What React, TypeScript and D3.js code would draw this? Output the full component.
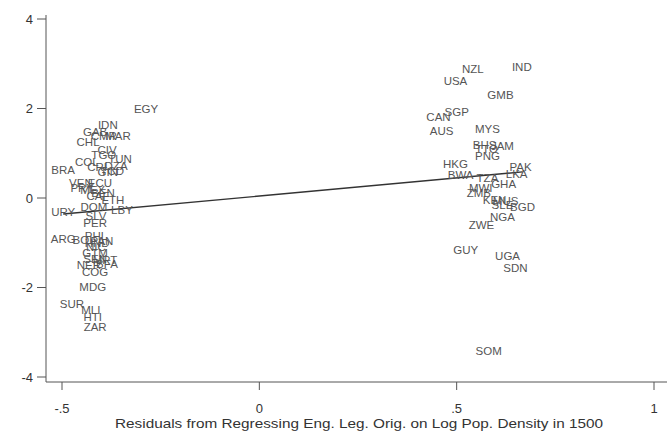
import React from 'react';
import * as d3 from 'd3';

// country codes with residual positions (x: eng. legal origin resid, y: outcome resid)
const leftCodes = ['EGY','IDN','GAB','MAR','CMR','CHL','CIV','TGO','TUN','COL','CRI','DZA','GIN','TCD','BRA','VEN','ECU','PRY','MEX','BEN','CAF','ETH','DOM','LBY','URY','SLV','PER','ARG','BOL','PHL','HND','PAN','NIC','GTM','SEN','BFA','NER','MRT','COG','MDG','SUR','MLI','HTI','ZAR'];
const leftX = [-0.287,-0.384,-0.416,-0.358,-0.394,-0.434,-0.386,-0.394,-0.353,-0.437,-0.411,-0.363,-0.384,-0.373,-0.497,-0.452,-0.404,-0.449,-0.422,-0.396,-0.409,-0.371,-0.419,-0.348,-0.497,-0.414,-0.416,-0.497,-0.444,-0.414,-0.411,-0.399,-0.414,-0.416,-0.416,-0.386,-0.432,-0.391,-0.416,-0.422,-0.475,-0.427,-0.422,-0.416];
const leftY = [1.99,1.63,1.47,1.39,1.39,1.25,1.07,0.96,0.87,0.80,0.69,0.72,0.58,0.60,0.63,0.34,0.34,0.22,0.18,0.11,0.04,-0.04,-0.20,-0.27,-0.31,-0.40,-0.56,-0.92,-0.94,-0.85,-1.01,-0.96,-1.09,-1.23,-1.36,-1.47,-1.50,-1.39,-1.65,-1.99,-2.37,-2.50,-2.66,-2.88];

const rightCodes = ['IND','NZL','USA','GMB','SGP','CAN','AUS','MYS','BHS','JAM','TTO','PNG','HKG','BWA','PAK','LKA','TZA','GHA','MWI','ZMB','KEN','MUS','SLE','BGD','NGA','ZWE','GUY','UGA','SDN','SOM'];
const rightX = [0.665,0.541,0.497,0.611,0.500,0.454,0.462,0.578,0.571,0.616,0.576,0.578,0.497,0.510,0.662,0.652,0.578,0.619,0.561,0.556,0.596,0.624,0.616,0.667,0.616,0.563,0.523,0.629,0.649,0.581];
const rightY = [2.93,2.88,2.61,2.30,1.92,1.81,1.50,1.54,1.18,1.16,1.09,0.94,0.76,0.51,0.69,0.54,0.45,0.31,0.22,0.11,-0.04,-0.07,-0.16,-0.20,-0.42,-0.60,-1.16,-1.30,-1.56,-3.42];

const fitIntercept = 0.044;
const fitSlope = 0.808;

const xTicks = [-0.5, 0, 0.5, 1];
const xTickLabels = ['-.5', '0', '.5', '1'];
const yTicks = [-4, -2, 0, 2, 4];
const yTickLabels = ['-4', '-2', '0', '2', '4'];

const W = 667;
const H = 438;
const font = '"Liberation Sans", Arial, sans-serif';

export default function App() {
  const x = d3.scaleLinear().domain([-0.5, 1]).range([62, 654]);
  const y = d3.scaleLinear().domain([-4, 4]).range([377, 19]);

  const axisLeftX = 46;
  const axisBottomY = 382;

  const codes = leftCodes.concat(rightCodes);
  const xs = leftX.concat(rightX);
  const ys = leftY.concat(rightY);

  const xmin = d3.min(xs) as number;
  const xmax = d3.max(xs) as number;
  const fit = d3.line<number>()
    .x(d => x(d))
    .y(d => y(fitIntercept + fitSlope * d));

  return (
    <svg width={W} height={H} style={{ position: 'absolute', left: 0, top: 0, background: '#fff' }}>
      <rect width={W} height={H} fill="#fff" />
      {/* axes */}
      <line x1={axisLeftX} x2={axisLeftX} y1={15} y2={axisBottomY} stroke="#555" strokeWidth={1} />
      <line x1={axisLeftX} x2={W} y1={axisBottomY} y2={axisBottomY} stroke="#555" strokeWidth={1} />
      {yTicks.map((t, i) => (
        <g key={'y' + t}>
          <line x1={axisLeftX - 9} x2={axisLeftX} y1={y(t)} y2={y(t)} stroke="#555" />
          <text x={axisLeftX - 13} y={y(t)} dy="0.35em" textAnchor="end" fontSize={13} fontFamily={font} fill="#333">{yTickLabels[i]}</text>
        </g>
      ))}
      {xTicks.map((t, i) => (
        <g key={'x' + t}>
          <line x1={x(t)} x2={x(t)} y1={axisBottomY} y2={axisBottomY + 8} stroke="#555" />
          <text x={x(t)} y={axisBottomY + 31} textAnchor="middle" fontSize={13} fontFamily={font} fill="#333">{xTickLabels[i]}</text>
        </g>
      ))}
      <text x={359} y={428} textAnchor="middle" fontSize={13.5} fontFamily={font} fill="#333"
        textLength={488} lengthAdjust="spacingAndGlyphs">
        Residuals from Regressing Eng. Leg. Orig. on Log Pop. Density in 1500
      </text>
      {/* fitted line */}
      <path d={fit([xmin, xmax]) || ''} fill="none" stroke="#333" strokeWidth={1.4} />
      {/* country labels */}
      {codes.map((c, i) => (
        <text key={c} x={x(xs[i])} y={y(ys[i])} dy="0.35em" textAnchor="middle" fontSize={11.5} fontFamily={font} fill="#555">{c}</text>
      ))}
    </svg>
  );
}
